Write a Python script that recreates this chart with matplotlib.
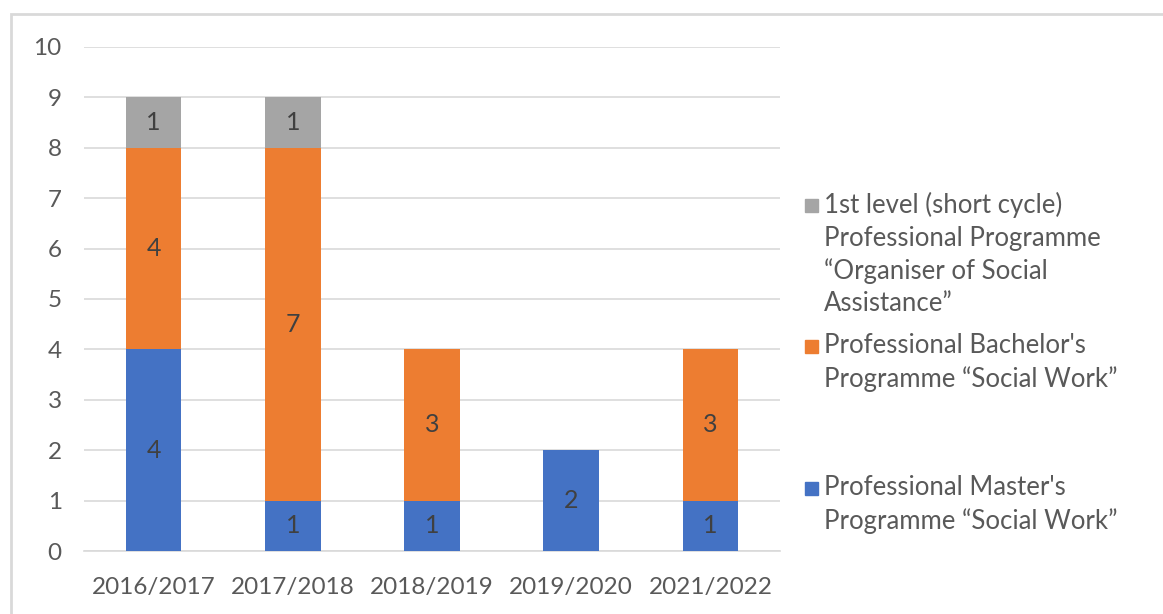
import matplotlib
matplotlib.use('Agg')
import matplotlib.pyplot as plt
from matplotlib.patches import Rectangle
import numpy as np

plt.rcParams['font.family'] = ['Lato', 'DejaVu Sans']

# 数据
years = ['2016/2017', '2017/2018', '2018/2019', '2019/2020', '2021/2022']
master = [4, 1, 1, 2, 1]
bachelor = [4, 7, 3, 0, 3]
short_cycle = [1, 1, 0, 0, 0]

series_labels = [
    '1st level (short cycle)\nProfessional Programme\n\u201cOrganiser of Social\nAssistance\u201d',
    "Professional Bachelor's\nProgramme \u201cSocial Work\u201d",
    "Professional Master's\nProgramme \u201cSocial Work\u201d",
]
colors = {'master': '#4472C4', 'bachelor': '#ED7D31', 'short': '#A5A5A5'}
text_color = '#595959'
label_color = '#404040'

fig = plt.figure(figsize=(11.63, 6.14), dpi=100)
ax = fig.add_axes([0.0722, 0.1026, 0.5985, 0.8209])

x = np.arange(len(years))
width = 0.4
m = np.array(master)
b = np.array(bachelor)
s = np.array(short_cycle)

bars_m = ax.bar(x, m, width, color=colors['master'], zorder=3)
bars_b = ax.bar(x, b, width, bottom=m, color=colors['bachelor'], zorder=3)
bars_s = ax.bar(x, s, width, bottom=m + b, color=colors['short'], zorder=3)

# 数据标签（0 不显示）
for bars, vals, bottoms in [(bars_m, m, np.zeros_like(m)), (bars_b, b, m), (bars_s, s, m + b)]:
    for bar, v, bt in zip(bars, vals, bottoms):
        if v > 0:
            ax.text(bar.get_x() + bar.get_width() / 2, bt + v / 2, f'{v}',
                    ha='center', va='center', fontsize=18, color=label_color, zorder=4)

ax.set_xlim(-0.5, len(years) - 0.5)
ax.set_ylim(0, 10)
ax.set_yticks(range(0, 11))
ax.set_xticks(x)
ax.set_xticklabels(years)
ax.tick_params(axis='both', length=0, labelsize=17.5, colors=text_color)
ax.tick_params(axis='y', pad=16)
ax.tick_params(axis='x', pad=19)
ax.grid(True, axis='y', color='#D9D9D9', linewidth=1.2, zorder=0)
for sp in ['top', 'right', 'left']:
    ax.spines[sp].set_visible(False)
ax.spines['bottom'].set_color('#D9D9D9')
ax.spines['bottom'].set_linewidth(1.2)

# 图例（手动放置）
W, H = 1163, 614
legend_items = [
    (colors['short'], series_labels[0], 205),
    (colors['bachelor'], series_labels[1], 346),
    (colors['master'], series_labels[2], 488),
]
for col, lab, ypix in legend_items:
    sq = 13
    fig.patches.append(Rectangle((805 / W, 1 - (ypix + sq / 2) / H), sq / W, sq / H,
                                 transform=fig.transFigure, color=col, figure=fig))
    fig.text(824 / W, 1 - (ypix - 13) / H, lab, ha='left', va='top', fontsize=18.5,
             color=text_color, linespacing=1.37)

# 外框
fig.patches.append(Rectangle((11 / W, -0.05), 1.1, 1 - 14 / H + 0.05,
                             transform=fig.transFigure, fill=False,
                             edgecolor='#D9D9D9', linewidth=2, figure=fig))

fig.savefig('out.png', dpi=100)
